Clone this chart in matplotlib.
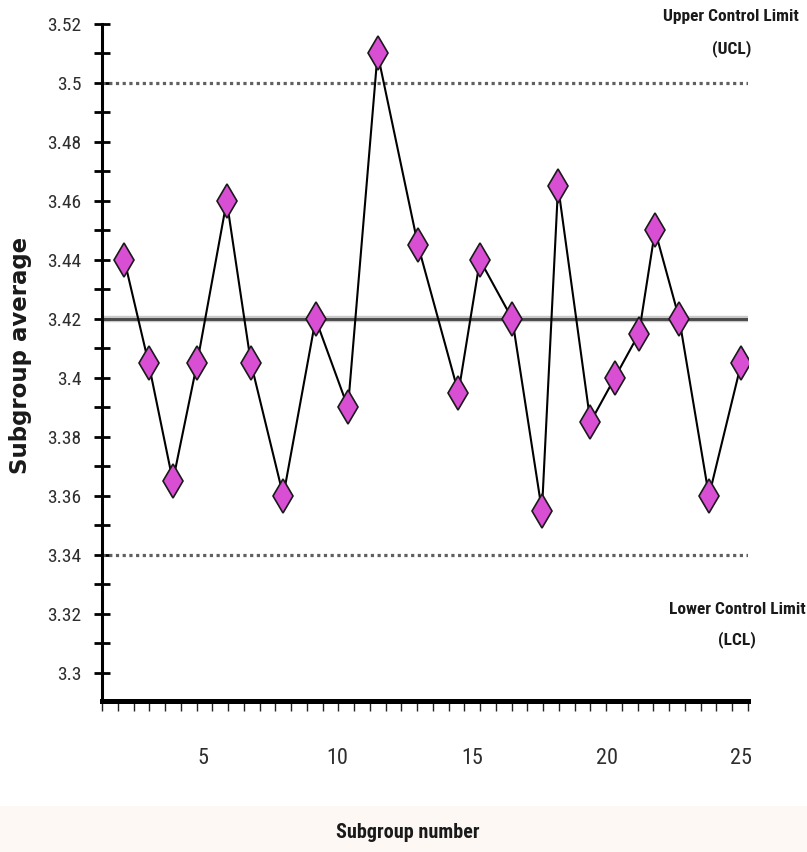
import matplotlib
matplotlib.use("Agg")
import matplotlib.pyplot as plt
from matplotlib import font_manager
from matplotlib.patches import Rectangle
from matplotlib.ticker import FixedLocator, FuncFormatter
import numpy as np

# ---------------- data ----------------
subgroup = [2.1, 3.0, 3.9, 4.8, 5.9, 6.8, 8.0, 9.2, 10.4, 11.5, 13.0, 14.5,
            15.3, 16.5, 17.6, 18.2, 19.4, 20.3, 21.2, 21.8, 22.7, 23.8, 25.0]
averages = [3.44, 3.405, 3.365, 3.405, 3.46, 3.405, 3.36, 3.42, 3.39, 3.51,
            3.445, 3.395, 3.44, 3.42, 3.355, 3.465, 3.385, 3.40, 3.415, 3.45,
            3.42, 3.36, 3.405]
ucl = 3.50
center_line = 3.42
lcl = 3.34
x_tick_values = [5, 10, 15, 20, 25]
y_tick_values = [3.30, 3.31, 3.32, 3.33, 3.34, 3.35, 3.36, 3.37, 3.38, 3.39,
                 3.40, 3.41, 3.42, 3.43, 3.44, 3.45, 3.46, 3.47, 3.48, 3.49,
                 3.50, 3.51, 3.52]
y_labelled = [3.30, 3.32, 3.34, 3.36, 3.38, 3.40, 3.42, 3.44, 3.46, 3.48,
              3.50, 3.52]

# ---------------- fonts ----------------
available = {f.name for f in font_manager.fontManager.ttflist}
narrow = None
for cand in ["Liberation Sans Narrow", "DejaVu Sans Condensed", "Roboto Condensed"]:
    if cand in available:
        narrow = cand
        break
scale = 1.0
if narrow is None:
    narrow = "Liberation Sans"
    scale = 0.85
NARROW = [narrow, "DejaVu Sans"]

W, H = 807, 852
fig = plt.figure(figsize=(W / 100, H / 100), dpi=100)
fig.patch.set_facecolor("white")
# faint tinted band at the bottom of the picture
fig.patches.append(Rectangle((0, 0), 1, 46 / H, transform=fig.transFigure,
                             facecolor="#fef8f4", edgecolor="none", zorder=-10))

ax = fig.add_axes([102 / W, 151 / H, 646 / W, 677 / H])
ax.set_xlim(1.27, 25.25)
ax.set_ylim(3.2905, 3.52)

# control lines
ax.axhline(center_line, color="#c9c9c9", lw=4.6, zorder=1)
ax.axhline(center_line, color="#4a4a4a", lw=2.1, zorder=2)
ax.axhline(ucl, color="#606060", lw=2.3, linestyle=(0, (1, 1.1)), zorder=2)
ax.axhline(lcl, color="#606060", lw=2.3, linestyle=(0, (1, 1.1)), zorder=2)

# series
ax.plot(subgroup, averages, color="black", lw=1.5, zorder=3)
ax.plot(subgroup, averages, linestyle="none", marker="d", markersize=17.5,
        markerfacecolor="#d94fd4", markeredgecolor="#1a1a1a",
        markeredgewidth=1.2, zorder=4)

# spines
for s in ("top", "right"):
    ax.spines[s].set_visible(False)
ax.spines["left"].set_linewidth(2.2)
ax.spines["bottom"].set_linewidth(3.6)
ax.spines["left"].set_color("black")
ax.spines["bottom"].set_color("black")

# y ticks
ax.yaxis.set_major_locator(FixedLocator(y_tick_values))
lab_set = {round(v, 2) for v in y_labelled}
ax.yaxis.set_major_formatter(FuncFormatter(
    lambda v, p: ("%g" % round(v, 2)) if round(v, 2) in lab_set else ""))
ax.tick_params(axis="y", direction="inout", length=12, width=2.0,
               color="black", pad=9.0, labelsize=14 * scale,
               labelcolor="#2e2e2e")
for t in ax.get_yticklabels():
    t.set_family(NARROW)

# x ticks
ax.xaxis.set_major_locator(FixedLocator(x_tick_values))
ax.xaxis.set_major_formatter(FuncFormatter(lambda v, p: "%d" % v))
ax.tick_params(axis="x", which="major", length=0, pad=34,
               labelsize=16 * scale, labelcolor="#2e2e2e")
for t in ax.get_xticklabels():
    t.set_family(NARROW)
x0, x1 = ax.get_xlim()
ax.xaxis.set_minor_locator(FixedLocator(np.linspace(x0, x1, 42)))
ax.tick_params(axis="x", which="minor", direction="out", length=7,
               width=1.0, color="#222222")

# axis labels
ax.set_xlabel("Subgroup number", fontsize=14.5 * scale, fontweight="bold",
              family=NARROW, va="center", color="#1a1a1a")
ax.xaxis.set_label_coords((408 - 102) / 646, (701 - 833) / 677)
ax.set_ylabel("Subgroup average", fontsize=16.5, fontweight="bold",
              family=["DejaVu Sans"], va="center", color="#1a1a1a")
ax.yaxis.set_label_coords((21 - 102) / 646, (701 - 355) / 677)

# annotations for the limits
def ftext(px, py, s):
    fig.text(px / W, 1 - py / H, s, ha="center", va="center",
             fontsize=12.5 * scale, fontweight="bold", family=NARROW,
             color="#1a1a1a")

ftext(731, 17, "Upper Control Limit")
ftext(732, 49, "(UCL)")
ftext(737, 610, "Lower Control Limit")
ftext(737, 640, "(LCL)")

fig.savefig("out.png", dpi=100)
